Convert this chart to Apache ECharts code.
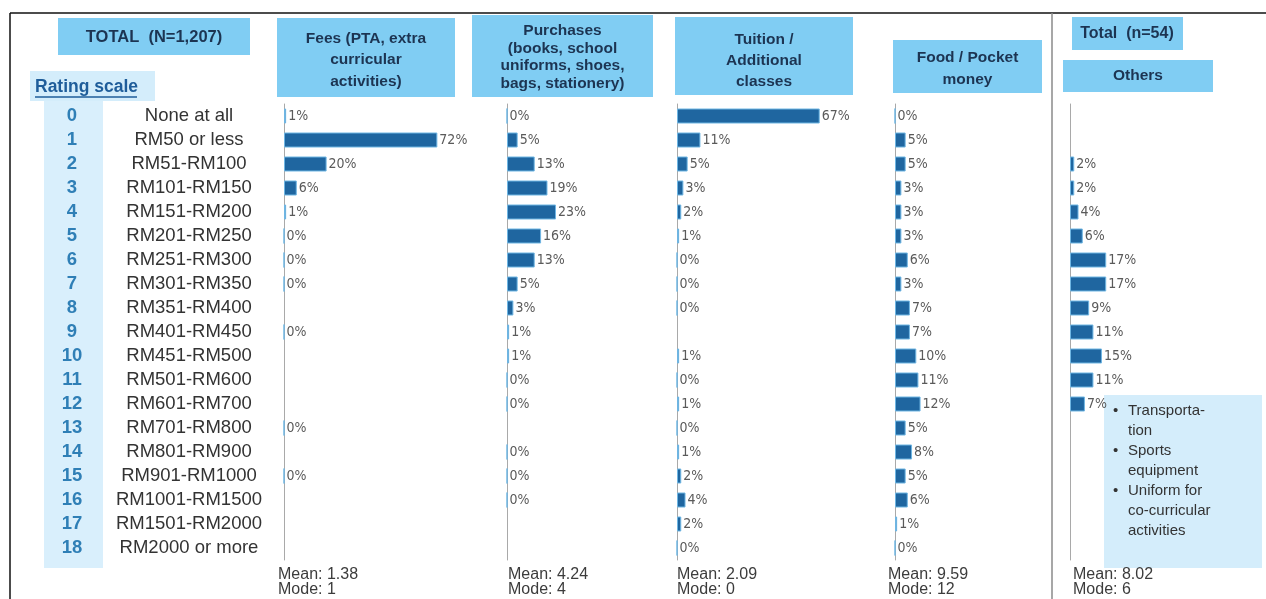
<!DOCTYPE html>
<html><head><meta charset="utf-8">
<script src="https://cdn.jsdelivr.net/npm/echarts@6/dist/echarts.min.js"></script>
<style>html,body{margin:0;padding:0;background:#fff}#c{width:1266px;height:599px}</style>
</head><body><div id="c"></div>
<script>
// ---- data ----
const rowNumbers = ['0','1','2','3','4','5','6','7','8','9','10','11','12','13','14','15','16','17','18'];
const rowLabels = ['None at all','RM50 or less','RM51-RM100','RM101-RM150','RM151-RM200','RM201-RM250','RM251-RM300','RM301-RM350','RM351-RM400','RM401-RM450','RM451-RM500','RM501-RM600','RM601-RM700','RM701-RM800','RM801-RM900','RM901-RM1000','RM1001-RM1500','RM1501-RM2000','RM2000 or more'];
const fees      = [1,72,20,6,1,0,0,0,null,0,null,null,null,0,null,0,null,null,null];
const purchases = [0,5,13,19,23,16,13,5,3,1,1,0,0,null,0,0,0,null,null];
const tuition   = [67,11,5,3,2,1,0,0,0,null,1,0,1,0,1,2,4,2,0];
const food      = [0,5,5,3,3,3,6,3,7,7,10,11,12,5,8,5,6,1,0];
const others    = [null,null,2,2,4,6,17,17,9,11,15,11,7,null,null,null,null,null,null];
const panelTitles = ['Fees (PTA, extra\ncurricular\nactivities)','Purchases\n(books, school\nuniforms, shoes,\nbags, stationery)','Tuition /\nAdditional\nclasses','Food / Pocket\nmoney','Others'];
const means = ['1.38','4.24','2.09','9.59','8.02'];
const modes = ['1','4','0','12','6'];
const totalTitle = 'TOTAL  (N=1,207)';
const subTotalTitle = 'Total  (n=54)';
const othersNotes = ['Transporta-\ntion','Sports\nequipment','Uniform for\nco-curricular\nactivities'];

// ---- layout ----
const FONT = '"Liberation Sans", Arial, sans-serif';
const NARROW = '"Liberation Sans Narrow", "DejaVu Sans Condensed", "Liberation Sans", sans-serif';
const seriesData = [fees, purchases, tuition, food, others];
const gridLeft = [284, 507, 677, 895, 1070];
const gridMax  = [80, 70, 80, 70, 50];
const pxPerPct = 2.13;
const TOP = 104, HEIGHT = 456;

const grids = [], xAxes = [], yAxes = [], series = [];
seriesData.forEach((d, i) => {
  grids.push({left: gridLeft[i], top: TOP, height: HEIGHT, width: gridMax[i] * pxPerPct});
  xAxes.push({type: 'value', gridIndex: i, min: 0, max: gridMax[i], show: false});
  yAxes.push({
    type: 'category', gridIndex: i, inverse: true, data: rowLabels,
    axisLine: {show: true, lineStyle: {color: '#a9a9a9', width: 1}},
    axisTick: {show: false},
    axisLabel: i === 0 ? {
      show: true, margin: 9,
      formatter: v => '{a|' + v + '}',
      rich: {a: {width: 172, align: 'center', fontSize: 18.5, fontFamily: FONT, color: '#333'}}
    } : {show: false}
  });
  series.push({
    type: 'bar', xAxisIndex: i, yAxisIndex: i, barWidth: 15, z: 6,
    data: d.map(v => v === null ? '-' : v),
    itemStyle: {color: '#1f66a0', borderColor: '#6fb6e3', borderWidth: 1},
    label: {show: true, position: 'right', distance: 2, formatter: '{c}%',
      fontFamily: NARROW, fontSize: 14, color: '#5a5a5a'}
  });
});
// number column axis
yAxes.push({
  type: 'category', gridIndex: 0, inverse: true, data: rowNumbers, position: 'left', offset: 180,
  axisLine: {show: false}, axisTick: {show: false},
  axisLabel: {margin: 7, formatter: v => '{n|' + v + '}',
    rich: {n: {width: 50, align: 'center', fontSize: 18.5, fontWeight: 'bold', fontFamily: FONT, color: '#2f7fb6'}}}
});

const navy = '#1c3452';
const headBlue = '#80cdf3';
const graphic = [
  {type: 'line', shape: {x1: 10, y1: 13, x2: 1266, y2: 13}, style: {stroke: '#111', lineWidth: 1.5}},
  {type: 'line', shape: {x1: 10, y1: 13, x2: 10, y2: 599}, style: {stroke: '#111', lineWidth: 1.5}},
  {type: 'line', shape: {x1: 1052, y1: 13, x2: 1052, y2: 599}, style: {stroke: '#8a8a8a', lineWidth: 1.5}},
  {type: 'rect', z: -1, shape: {x: 58, y: 18, width: 192, height: 37}, style: {fill: headBlue}},
  {type: 'text', z: 10, style: {text: totalTitle, x: 154, y: 37, textAlign: 'center', textVerticalAlign: 'middle', font: 'bold 16.5px ' + FONT, fill: navy}},
  {type: 'rect', z: -1, shape: {x: 30, y: 71, width: 125, height: 30}, style: {fill: '#d4edfb'}},
  {type: 'text', z: 10, style: {text: 'Rating scale', x: 35, y: 87, textAlign: 'left', textVerticalAlign: 'middle', font: 'bold 17.5px ' + FONT, fill: '#1f5d9a'}},
  {type: 'line', z: 10, shape: {x1: 35, y1: 97, x2: 137, y2: 97}, style: {stroke: '#1f5d9a', lineWidth: 1.5}},
  {type: 'rect', z: -1, shape: {x: 44, y: 101, width: 59, height: 467}, style: {fill: '#d9effc'}}
];
const boxes = [
  {x: 277, y: 18, w: 178, h: 79, cy: 60, lh: 21.5},
  {x: 472, y: 15, w: 181, h: 82, cy: 57, lh: 17.5},
  {x: 675, y: 17, w: 178, h: 78, cy: 61, lh: 21},
  {x: 893, y: 40, w: 149, h: 53, cy: 69, lh: 22},
  {x: 1063, y: 60, w: 150, h: 32, cy: 76, lh: 20}
];
boxes.forEach((b, i) => {
  graphic.push({type: 'rect', z: -1, shape: {x: b.x, y: b.y, width: b.w, height: b.h}, style: {fill: headBlue}});
  graphic.push({type: 'text', z: 10, style: {text: panelTitles[i], x: b.x + b.w / 2, y: b.cy, textAlign: 'center', textVerticalAlign: 'middle', lineHeight: b.lh, font: 'bold 15.5px ' + FONT, fill: navy}});
});
graphic.push({type: 'rect', z: -1, shape: {x: 1072, y: 17, width: 111, height: 33}, style: {fill: headBlue}});
graphic.push({type: 'text', z: 10, style: {text: subTotalTitle, x: 1127, y: 34, textAlign: 'center', textVerticalAlign: 'middle', font: 'bold 16px ' + FONT, fill: navy}});
// stats under each panel
const statX = [278, 508, 677, 888, 1073];
statX.forEach((x, i) => {
  graphic.push({type: 'text', z: 10, style: {text: 'Mean: ' + means[i] + '\nMode: ' + modes[i], x: x, y: 567, textAlign: 'left', textVerticalAlign: 'top', lineHeight: 15, font: '16px ' + FONT, fill: '#3c3c3c'}});
});
// others notes box
graphic.push({type: 'rect', z: -1, shape: {x: 1104, y: 395, width: 158, height: 173}, style: {fill: '#d4edfb'}});
let ny = 411;
othersNotes.forEach(t => {
  graphic.push({type: 'text', z: 10, style: {text: '•', x: 1113, y: ny, textAlign: 'left', textVerticalAlign: 'middle', font: '15px ' + FONT, fill: '#333'}});
  graphic.push({type: 'text', z: 10, style: {text: t, x: 1128, y: ny - 10, textAlign: 'left', textVerticalAlign: 'top', lineHeight: 20, font: '15px ' + FONT, fill: '#333'}});
  ny += t.split('\n').length * 20;
});

const chart = echarts.init(document.getElementById('c'), null, {renderer: 'canvas'});
chart.setOption({
  animation: false,
  backgroundColor: '#fff',
  grid: grids, xAxis: xAxes, yAxis: yAxes, series: series, graphic: graphic
});
</script></body></html>
